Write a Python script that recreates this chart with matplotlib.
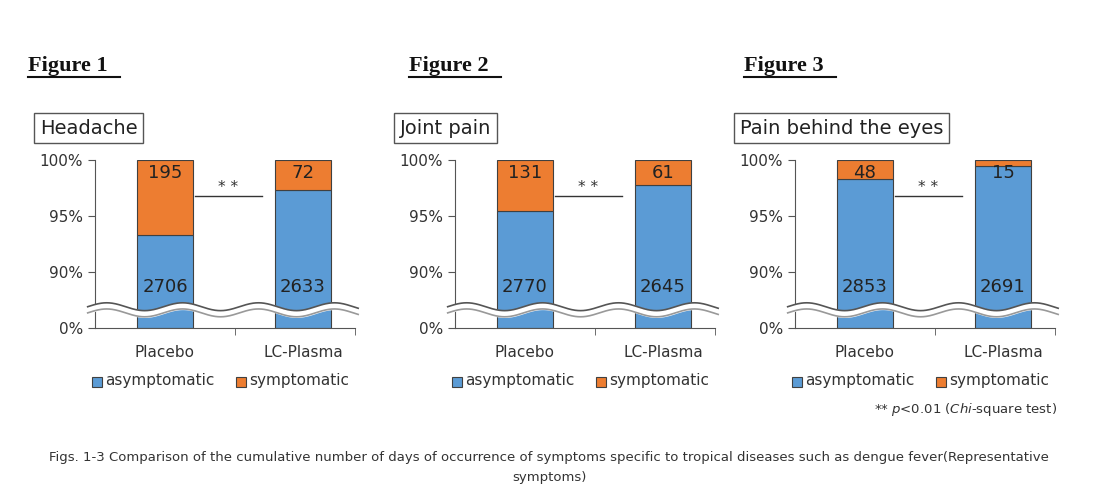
import numpy as np
import matplotlib
matplotlib.use('Agg')
import matplotlib.pyplot as plt
from matplotlib.lines import Line2D

plt.rcParams['font.family'] = ['DejaVu Sans']

figure_labels = ['Figure 1', 'Figure 2', 'Figure 3']
symptoms = ['Headache', 'Joint pain', 'Pain behind the eyes']
groups = ['Placebo', 'LC-Plasma']
asymptomatic = [[2706, 2633], [2770, 2645], [2853, 2691]]
symptomatic = [[195, 72], [131, 61], [48, 15]]

BLUE = '#5b9bd5'
ORANGE = '#ed7d31'
W, H = 1098, 504
ZERO = 85.0  # where 0% sits on the compressed axis


def fx(px):
    return px / W


def fy(py):
    return 1 - py / H


fig = plt.figure(figsize=(W / 100, H / 100), dpi=100)
panel_left = [95, 455, 795]

for k in range(3):
    ax = fig.add_axes([fx(panel_left[k]), fy(328), fx(260), 168 / H])
    x = np.arange(2)
    tot = np.array(asymptomatic[k]) + np.array(symptomatic[k])
    pa = np.array(asymptomatic[k]) / tot * 100
    ax.bar(x, pa - ZERO, 0.41, bottom=ZERO, color=BLUE, edgecolor='#404040', lw=0.8)
    ax.bar(x, 100 - pa, 0.41, bottom=pa, color=ORANGE, edgecolor='#404040', lw=0.8)
    for i in range(2):
        ax.text(x[i], 98.8, str(symptomatic[k][i]), ha='center', va='center', fontsize=13, color='#222222')
        ax.text(x[i], 88.7, str(asymptomatic[k][i]), ha='center', va='center', fontsize=13, color='#222222')
    ax.set_xlim(-0.507, 1.377)
    ax.set_ylim(ZERO, 100)
    ax.set_yticks([ZERO, 90, 95, 100])
    ax.set_yticklabels(['0%', '90%', '95%', '100%'], fontsize=11, color='#333333')
    ax.set_xticks([0.507, 1.377], minor=True)
    ax.set_xticks([0, 1])
    ax.set_xticklabels(groups, fontsize=11, color='#333333')
    ax.tick_params(axis='x', which='major', length=0, pad=12)
    ax.tick_params(axis='x', which='minor', length=5, color='#555555')
    ax.tick_params(axis='y', length=5, color='#555555')
    for s in ['top', 'right']:
        ax.spines[s].set_visible(False)
    for s in ['left', 'bottom']:
        ax.spines[s].set_color('#555555')
    # significance
    ax.plot([0.22, 0.705], [96.8, 96.8], color='#333333', lw=1)
    ax.text(0.46, 97.5, '* *', ha='center', va='center', fontsize=11, color='#333333')
    # axis break
    xs = np.linspace(-0.56, 1.40, 300)
    wave = 0.35 * np.sin((xs + 0.56) * 2 * np.pi / 0.55)
    y1 = 86.9 + wave
    y2 = 86.35 + wave
    ax.fill_between(xs, y2, y1, color='white', zorder=5, clip_on=False)
    ax.plot(xs, y1, color='#555555', lw=1.2, zorder=6, clip_on=False)
    ax.plot(xs, y2, color='#999999', lw=1.2, zorder=6, clip_on=False)

    # symptom box
    fig.text(fx(panel_left[k] - 55), fy(128), symptoms[k], fontsize=14, va='center', color='#222222',
             bbox=dict(boxstyle='square,pad=0.3', fc='white', ec='#555555', lw=1))
    # figure label
    lx = panel_left[k] - 67 if k == 0 else panel_left[k] - 46 if k == 1 else panel_left[k] - 51
    fig.text(fx(lx), fy(66), figure_labels[k], fontsize=16, fontweight='bold',
             family='Liberation Serif', va='center', color='#111111')
    fig.add_artist(Line2D([fx(lx), fx(lx + 92)], [fy(77), fy(77)], color='#111111', lw=1.5))

    # legend
    lgx = panel_left[k] - 3
    fig.patches.append(plt.Rectangle((fx(lgx), fy(387)), fx(10), 10 / H, transform=fig.transFigure,
                                     fc=BLUE, ec='#404040', lw=0.8))
    fig.text(fx(lgx + 13), fy(381), 'asymptomatic', fontsize=11, va='center', color='#333333')
    fig.patches.append(plt.Rectangle((fx(lgx + 144), fy(387)), fx(10), 10 / H, transform=fig.transFigure,
                                     fc=ORANGE, ec='#404040', lw=0.8))
    fig.text(fx(lgx + 157), fy(381), 'symptomatic', fontsize=11, va='center', color='#333333')

fig.text(fx(1057), fy(409), r'** $\it{p}$<0.01 ($\it{Chi}$-square test)', fontsize=9.5, ha='right',
         va='center', color='#333333')
fig.text(0.5, fy(457), 'Figs. 1-3 Comparison of the cumulative number of days of occurrence of symptoms specific to tropical diseases such as dengue fever(Representative',
         fontsize=9.5, ha='center', va='center', color='#333333')
fig.text(0.5, fy(478), 'symptoms)', fontsize=9.5, ha='center', va='center', color='#333333')

fig.savefig('out.png', dpi=100)
